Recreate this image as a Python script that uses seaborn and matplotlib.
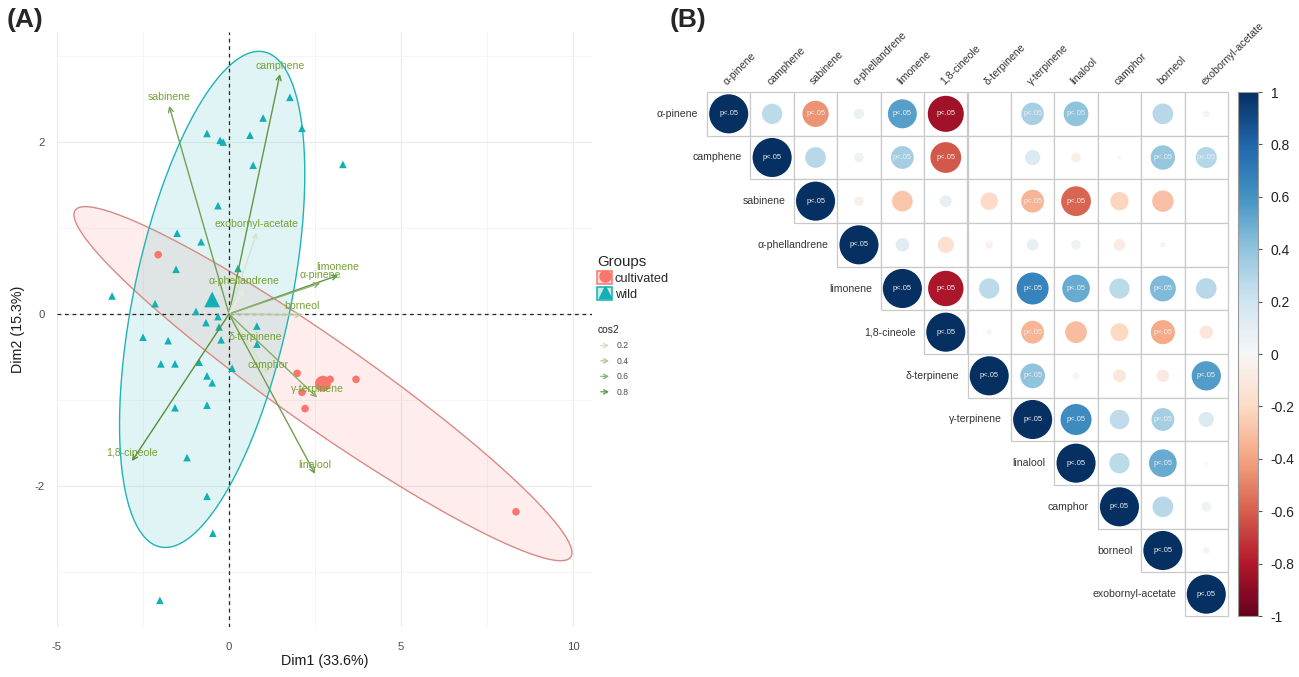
import numpy as np
import pandas as pd
import matplotlib
matplotlib.use('Agg')
import matplotlib.pyplot as plt
import seaborn as sns
from matplotlib.colors import LinearSegmentedColormap, Normalize, to_rgba
from matplotlib.cm import ScalarMappable
from matplotlib.lines import Line2D
from matplotlib.patches import Patch, Rectangle, FancyArrowPatch
from matplotlib.legend_handler import HandlerTuple, HandlerBase

# ---------------- (A) PCA biplot data ----------------
cult_x = [-2.06, 1.98, 2.94, 3.69, 2.12, 2.21, 8.34]
cult_y = [0.69, -0.69, -0.76, -0.76, -0.91, -1.10, -2.30]

wild_x = [1.77, 0.99, 2.12, -0.64, -0.26, -0.17, 0.61, 3.31, 0.70, -0.32,
          -1.51, -0.81, -1.54, 0.26, -3.40, -2.15, -0.96, -0.32, -0.67, -0.29,
          0.81, -2.50, -1.77, -0.23, 0.81, -1.98, -1.57, -0.87, 0.09, -0.64,
          -0.49, -1.57, -0.64, -1.22, -0.64, -0.47, -2.01]
wild_y = [2.52, 2.28, 2.16, 2.10, 2.02, 2.00, 2.08, 1.74, 1.73, 1.26,
          0.94, 0.84, 0.52, 0.53, 0.21, 0.12, 0.03, -0.03, -0.10, -0.15,
          -0.14, -0.27, -0.31, -0.30, -0.35, -0.58, -0.58, -0.56, -0.63, -0.72,
          -0.80, -1.09, -1.06, -1.67, -2.12, -2.55, -3.33]

groups = ['cultivated', 'wild']
center_x = [2.73, -0.49]
center_y = [-0.81, 0.17]

var_names = ['camphene', 'sabinene', 'exobornyl-acetate', 'limonene', 'α-pinene',
             'α-phellandrene', 'borneol', 'δ-terpinene', 'camphor', 'γ-terpinene',
             'linalool', '1,8-cineole']
var_x = [1.48, -1.74, 0.81, 3.17, 2.65, 0.44, 2.12, 0.76, 1.13, 2.56, 2.50, -2.82]
var_y = [2.79, 2.42, 0.95, 0.45, 0.36, 0.29, -0.01, -0.37, -0.69, -0.97, -1.86, -1.71]
var_cos2 = [0.80, 0.72, 0.14, 0.82, 0.58, 0.04, 0.35, 0.06, 0.15, 0.62, 0.74, 0.86]
cos2_legend = [0.2, 0.4, 0.6, 0.8]

# ---------------- (B) correlation matrix (upper triangle, row-wise) ----------------
corr_names = ['α-pinene', 'camphene', 'sabinene', 'α-phellandrene', 'limonene',
              '1,8-cineole', 'δ-terpinene', 'γ-terpinene', 'linalool', 'camphor',
              'borneol', 'exobornyl-acetate']
corr_rows = [
    [1, 0.27, -0.45, 0.07, 0.55, -0.85, 0.0, 0.33, 0.40, 0.0, 0.28, -0.03],
    [1, 0.28, 0.06, 0.34, -0.62, 0.0, 0.15, -0.06, 0.01, 0.39, 0.29],
    [1, -0.06, -0.28, 0.09, -0.20, -0.34, -0.58, -0.22, -0.30, 0.0],
    [1, 0.12, -0.17, -0.04, 0.09, 0.06, -0.09, 0.02, 0.0],
    [1, -0.82, 0.27, 0.67, 0.50, 0.27, 0.44, 0.28],
    [1, -0.02, -0.34, -0.31, -0.21, -0.38, -0.12],
    [1, 0.40, 0.03, -0.11, -0.10, 0.56],
    [1, 0.63, 0.25, 0.34, 0.15],
    [1, 0.27, 0.50, 0.01],
    [1, 0.28, 0.06],
    [1, 0.03],
    [1],
]
signif_rows = [
    [1, 0, 1, 0, 1, 1, 0, 1, 1, 0, 0, 0],
    [1, 0, 0, 1, 1, 0, 0, 0, 0, 1, 1],
    [1, 0, 0, 0, 0, 1, 1, 0, 0, 0],
    [1, 0, 0, 0, 0, 0, 0, 0, 0],
    [1, 1, 0, 1, 1, 0, 1, 0],
    [1, 0, 1, 0, 0, 1, 0],
    [1, 1, 0, 0, 0, 1],
    [1, 1, 0, 1, 0],
    [1, 0, 1, 0],
    [1, 0, 0],
    [1, 0],
    [1],
]
cbar_ticks = [-1, -0.8, -0.6, -0.4, -0.2, 0, 0.2, 0.4, 0.6, 0.8, 1]
cbar_labels = ['-1', '-0.8', '-0.6', '-0.4', '-0.2', '0', '0.2', '0.4', '0.6', '0.8', '1']

# ---------------- style ----------------
sns.set_style('white')
plt.rcParams['font.family'] = ['Liberation Sans', 'DejaVu Sans']
plt.rcParams['axes.unicode_minus'] = False

W, H = 1299, 677
fig = plt.figure(figsize=(W / 100, H / 100), dpi=100)


def fig_rect(x0, y0, x1, y1):
    return [x0 / W, 1 - y1 / H, (x1 - x0) / W, (y1 - y0) / H]


group_colors = {'cultivated': '#F8766D', 'wild': '#12B0B5'}
ellipse_edge = {'cultivated': '#d98a84', 'wild': '#1fb3b6'}
cos2_cmap = LinearSegmentedColormap.from_list('cos2', ['#eef1e6', '#a9c28a', '#4f8a2e'])
cos2_norm = Normalize(0, 0.9)
label_green = '#74a233'

# ================= panel A =================
axA = fig.add_axes(fig_rect(57, 32, 592, 627))

df_ind = pd.DataFrame({
    'Dim1': cult_x + wild_x,
    'Dim2': cult_y + wild_y,
    'Groups': ['cultivated'] * len(cult_x) + ['wild'] * len(wild_x),
})


def ellipse_pts(x, y, cx, cy, level=0.86, n=240):
    # normal-theory ellipse, radius sqrt(2 * F(level; 2, n-1)) as in stat_ellipse
    dfd = len(x) - 1
    qf = dfd / 2 * ((1 - level) ** (-2 / dfd) - 1)
    rad = np.sqrt(2 * qf)
    vals, vecs = np.linalg.eigh(np.cov(x, y))
    t = np.linspace(0, 2 * np.pi, n)
    circ = np.vstack([np.cos(t), np.sin(t)])
    pts = vecs @ (np.sqrt(vals)[:, None] * circ) * rad
    return cx + pts[0], cy + pts[1]


for g, gx, gy, cx, cy in [('cultivated', cult_x, cult_y, center_x[0], center_y[0]),
                          ('wild', wild_x, wild_y, center_x[1], center_y[1])]:
    ex, ey = ellipse_pts(gx, gy, cx, cy)
    axA.fill(ex, ey, facecolor=group_colors[g], alpha=0.13, zorder=1)
    axA.plot(ex, ey, color=ellipse_edge[g], lw=1.0, zorder=2)

axA.axhline(0, color='#222222', ls=(0, (3, 3)), lw=0.9, zorder=2)
axA.axvline(0, color='#222222', ls=(0, (3, 3)), lw=0.9, zorder=2)

sns.scatterplot(data=df_ind, x='Dim1', y='Dim2', hue='Groups', style='Groups',
                markers={'cultivated': 'o', 'wild': '^'}, palette=group_colors,
                s=30, linewidth=0, legend=False, ax=axA, zorder=4)

df_cent = pd.DataFrame({'Dim1': center_x, 'Dim2': center_y, 'Groups': groups})
sns.scatterplot(data=df_cent, x='Dim1', y='Dim2', hue='Groups', style='Groups',
                markers={'cultivated': 'o', 'wild': '^'}, palette=group_colors,
                s=130, linewidth=0, legend=False, ax=axA, zorder=4)

for name, vx, vy, c2 in zip(var_names, var_x, var_y, var_cos2):
    col = cos2_cmap(cos2_norm(c2))
    axA.annotate('', xy=(vx, vy), xytext=(0, 0), zorder=5,
                 arrowprops=dict(arrowstyle='->,head_length=0.35,head_width=0.18',
                                 color=col, lw=1.0, shrinkA=0, shrinkB=0))
    axA.annotate(name, xy=(vx, vy), xytext=(0, 2.5), textcoords='offset points',
                 ha='center', va='bottom', fontsize=7.6, color=label_green, zorder=6)

axA.set_xlim(-5.0, 10.55)
axA.set_ylim(-3.64, 3.28)
axA.set_xticks([-5, 0, 5, 10])
axA.set_xticks([-2.5, 2.5, 7.5], minor=True)
axA.set_yticks([-2, 0, 2])
axA.set_yticks([-3, -1, 1, 3], minor=True)
axA.grid(which='major', color='#ebebeb', lw=0.8, zorder=0)
axA.grid(which='minor', color='#f4f4f4', lw=0.6, zorder=0)
axA.set_axisbelow(True)
for s in axA.spines.values():
    s.set_visible(False)
axA.tick_params(which='both', length=0)
axA.tick_params(axis='x', labelsize=8.2, labelcolor='#4d4d4d', pad=11)
axA.tick_params(axis='y', labelsize=8.2, labelcolor='#4d4d4d', pad=9)
axA.set_xlabel('Dim1 (33.6%)', fontsize=10.3, color='#1a1a1a', labelpad=1)
axA.set_ylabel('Dim2 (15.3%)', fontsize=10.3, color='#1a1a1a', labelpad=7)

# legends of panel A
grp_handles = []
for g in groups:
    box = Patch(facecolor=to_rgba(group_colors[g], 0.25), edgecolor=group_colors[g], lw=1.1)
    mk = Line2D([], [], ls='', marker='o' if g == 'cultivated' else '^',
                color=group_colors[g], markersize=8)
    grp_handles.append((box, mk))
leg1 = axA.legend(grp_handles, groups, title='Groups', loc='upper left',
                  bbox_to_anchor=(597 / W, 1 - 255 / H), bbox_transform=fig.transFigure,
                  frameon=False, fontsize=9.2, title_fontsize=10.8, alignment='left',
                  handler_map={tuple: HandlerTuple(ndivide=1)}, numpoints=1,
                  handlelength=1.2, handleheight=1.2, handletextpad=0.2,
                  labelspacing=0.15, borderpad=0, borderaxespad=0)
axA.add_artist(leg1)


class ArrowHandler(HandlerBase):
    def create_artists(self, legend, orig, xd, yd, width, height, fontsize, trans):
        arr = FancyArrowPatch((xd, yd + height / 2), (xd + width, yd + height / 2),
                              arrowstyle='->,head_length=3,head_width=1.6',
                              color=orig.get_color(), lw=0.9, transform=trans)
        return [arr]


cos_handles = [Line2D([], [], color=cos2_cmap(cos2_norm(v))) for v in cos2_legend]
leg2 = axA.legend(cos_handles, [str(v) for v in cos2_legend], title='cos2', loc='upper left',
                  bbox_to_anchor=(598 / W, 1 - 325 / H), bbox_transform=fig.transFigure,
                  frameon=False, fontsize=6.2, title_fontsize=7.4, alignment='left',
                  handler_map={Line2D: ArrowHandler()},
                  handlelength=1.6, handletextpad=0.6, labelspacing=0.75,
                  borderpad=0, borderaxespad=0)
for t in leg2.get_texts():
    t.set_color('#4d4d4d')

fig.text(7 / W, 1 - 20 / H, '(A)', fontsize=19, fontweight='bold', va='center')
fig.text(670 / W, 1 - 20 / H, '(B)', fontsize=19, fontweight='bold', va='center')

# ================= panel B =================
n = len(corr_names)
axB = fig.add_axes(fig_rect(707, 92, 1228, 616))

recs = []
for i, (vals, sigs) in enumerate(zip(corr_rows, signif_rows)):
    for k, (v, sg) in enumerate(zip(vals, sigs)):
        recs.append({'row': i + 0.5, 'col': i + k + 0.5, 'r': v, 'absr': abs(v), 'sig': sg})
df_corr = pd.DataFrame(recs)

# grid of the upper triangle cells
for _, rw in df_corr.iterrows():
    axB.add_patch(Rectangle((rw['col'] - 0.5, rw['row'] - 0.5), 1, 1, facecolor='white',
                            edgecolor='#c9c9c9', lw=0.9, clip_on=False, zorder=1))

cell_pt = (1228 - 707) / n * 0.72
smax = (0.9 * cell_pt) ** 2
sns.scatterplot(data=df_corr, x='col', y='row', hue='r', hue_norm=(-1, 1), palette='RdBu',
                size='absr', size_norm=(0, 1), sizes=(0, smax), linewidth=0,
                legend=False, ax=axB, zorder=3)

for _, rw in df_corr[df_corr['sig'] == 1].iterrows():
    axB.text(rw['col'], rw['row'], 'p<.05', ha='center', va='center', fontsize=5.4,
             color='#eeeeee', zorder=4)

for i, name in enumerate(corr_names):
    axB.text(i - 0.2, i + 0.5, name, ha='right', va='center', fontsize=7.6, color='#333333')
    axB.text(i + 0.5, -0.12, name, ha='left', va='bottom', rotation=45,
             rotation_mode='anchor', fontsize=7.6, color='#333333')

axB.set_xlim(0, n)
axB.set_ylim(n, 0)
axB.set_xlabel('')
axB.set_ylabel('')
axB.set_xticks([])
axB.set_yticks([])
for s in axB.spines.values():
    s.set_visible(False)

cax = fig.add_axes(fig_rect(1238, 92, 1258, 616))
cb = fig.colorbar(ScalarMappable(norm=Normalize(-1, 1), cmap='RdBu'), cax=cax)
cb.set_ticks(cbar_ticks)
cb.set_ticklabels(cbar_labels)
cb.outline.set_edgecolor('#9a9a9a')
cb.outline.set_linewidth(0.8)
cax.tick_params(length=3, width=0.8, color='#555555', labelsize=10, labelcolor='#222222', pad=6)

fig.savefig('out.png', dpi=100)
